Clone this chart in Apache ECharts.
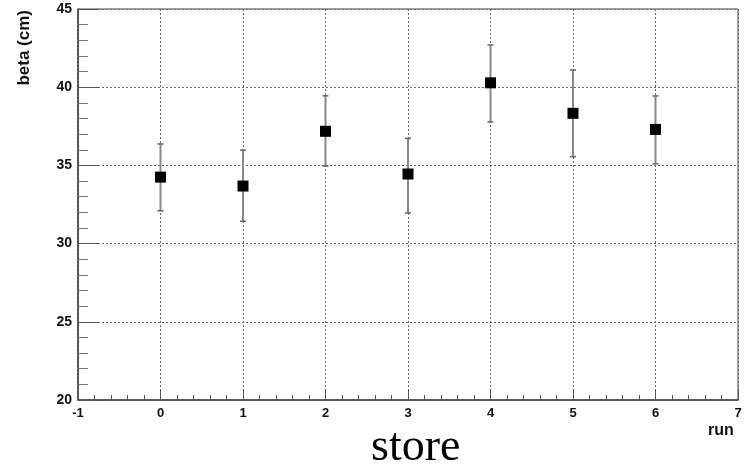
<!DOCTYPE html>
<html><head><meta charset="utf-8">
<script src="https://cdn.jsdelivr.net/npm/echarts@6/dist/echarts.min.js"></script>
<style>html,body{margin:0;padding:0;background:#fff}#c{width:749px;height:471px}</style>
</head><body><div id="c"></div>
<script>
const runs = [0, 1, 2, 3, 4, 5, 6];
const beta = [34.25, 33.68, 37.18, 34.45, 40.28, 38.33, 37.30];
const errHigh = [36.37, 35.98, 39.45, 36.73, 42.70, 41.10, 39.44];
const errLow = [32.10, 31.43, 34.96, 31.96, 37.78, 35.56, 35.10];

const chart = echarts.init(document.getElementById('c'), null, {renderer: 'canvas'});
const labelFont = {fontFamily: 'Liberation Sans, Arial, sans-serif', fontWeight: 'bold', fontSize: 13, color: '#111'};
chart.setOption({
  animation: false,
  grid: {left: 78, right: 11, top: 9, bottom: 71, show: true, borderColor: '#444', borderWidth: 1, backgroundColor: 'transparent'},
  xAxis: {
    type: 'value', min: -1, max: 7, interval: 1,
    axisLine: {show: true, onZero: false, lineStyle: {color: '#444', width: 1.5}},
    axisTick: {show: true, inside: true, length: 10, lineStyle: {color: '#555'}},
    minorTick: {show: true, splitNumber: 5, length: 5, lineStyle: {color: '#555'}},
    axisLabel: Object.assign({margin: 7}, labelFont),
    splitLine: {show: true, lineStyle: {color: '#666', type: [2, 2], width: 1}},
    minorSplitLine: {show: false}
  },
  yAxis: {
    type: 'value', min: 20, max: 45, interval: 5,
    axisLine: {show: true, onZero: false, lineStyle: {color: '#444', width: 1.5}},
    axisTick: {show: true, inside: true, length: 21, lineStyle: {color: '#555'}},
    minorTick: {show: true, splitNumber: 5, length: 10, lineStyle: {color: '#777'}},
    axisLabel: Object.assign({margin: 6}, labelFont, {fontSize: 14}),
    splitLine: {show: true, lineStyle: {color: '#666', type: [2, 2], width: 1}},
    minorSplitLine: {show: false}
  },
  graphic: [
    {type: 'text', left: 16, top: 10, rotation: Math.PI / 2,
     style: {text: 'beta (cm)', font: 'bold 17px "Liberation Sans", Arial, sans-serif', fill: '#111'}},
    {type: 'text', x: 708, y: 423,
     style: {text: 'run', font: 'bold 16px "Liberation Sans", Arial, sans-serif', fill: '#111'}},
    {type: 'text', x: 371, y: 425,
     style: {text: 'store', font: '46px "Liberation Serif", "Times New Roman", serif', fill: '#000'}}
  ],
  series: [
    {
      type: 'custom',
      data: runs.map((r, i) => [r, errLow[i], errHigh[i]]),
      renderItem: function (params, api) {
        const x = api.value(0);
        const lo = api.coord([x, api.value(1)]);
        const hi = api.coord([x, api.value(2)]);
        const cw = 3;
        return {type: 'group', children: [
          {type: 'line', shape: {x1: lo[0], y1: lo[1], x2: hi[0], y2: hi[1]}, style: {stroke: '#888', lineWidth: 2}},
          {type: 'line', shape: {x1: lo[0] - cw, y1: lo[1], x2: lo[0] + cw, y2: lo[1]}, style: {stroke: '#666', lineWidth: 1.5}},
          {type: 'line', shape: {x1: hi[0] - cw, y1: hi[1], x2: hi[0] + cw, y2: hi[1]}, style: {stroke: '#666', lineWidth: 1.5}}
        ]};
      },
      z: 3
    },
    {
      type: 'scatter', symbol: 'rect', symbolSize: 11,
      itemStyle: {color: '#000', opacity: 1},
      data: runs.map((r, i) => [r, beta[i]]),
      z: 5
    }
  ]
});
</script></body></html>
